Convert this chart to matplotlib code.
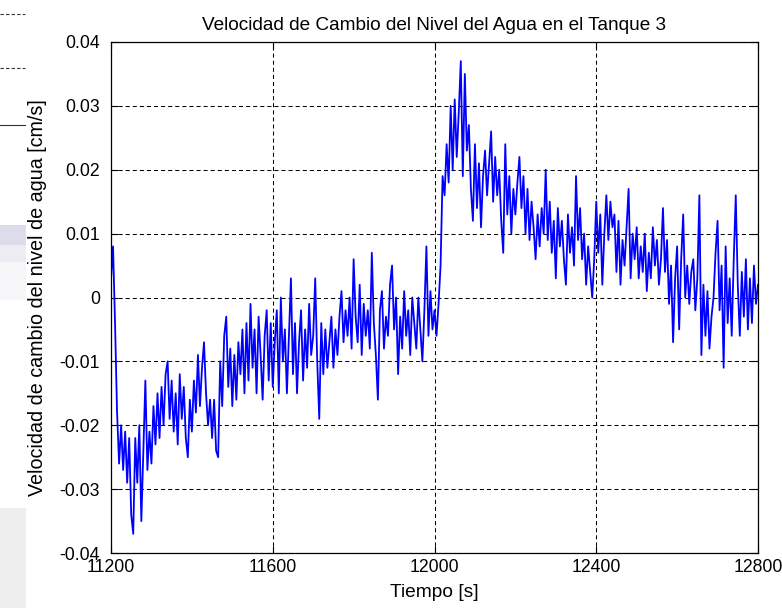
import numpy as np
import matplotlib.pyplot as plt
from matplotlib.patches import Rectangle
from matplotlib.lines import Line2D

tiempo = np.arange(11200, 12801, 5)
vel_milli = [
    3, 8, -4, -18, -26, -20, -27, -21, -29, -22,
    -34, -37, -22, -29, -20, -35, -24, -13, -27, -21,
    -26, -17, -23, -15, -22, -14, -20, -12, -10, -19,
    -13, -21, -15, -23, -12, -19, -14, -22, -25, -16,
    -21, -13, -18, -9, -17, -11, -7, -15, -20, -16,
    -22, -16, -24, -25, -10, -17, -6, -3, -14, -8,
    -17, -9, -16, -7, -12, -5, -15, -4, -13, -1,
    -11, -5, -15, -3, -9, -16, -6, -2, -13, -4,
    -14, -7, -2, -15, 0, -10, -5, -15, -6, 3,
    -12, -4, -15, -7, -2, -13, -5, -11, -1, -9,
    -6, 3, -10, -19, -4, -12, -5, -11, -7, -3,
    -11, -5, -9, -3, 1, -7, -2, -6, 0, -8,
    6, -3, -7, 2, -9, -1, -6, -2, -8, 7,
    -4, -9, -16, -2, 1, -8, -3, -6, 2, 5,
    -5, 0, -12, -3, -8, 1, -6, -2, -9, 0,
    -4, -8, 0, -5, -10, -2, 8, -6, 1, -5,
    -2, -6, -1, 5, 19, 16, 24, 18, 30, 20,
    31, 22, 29, 37, 19, 35, 23, 27, 17, 12,
    24, 14, 21, 11, 19, 23, 16, 21, 26, 15,
    22, 16, 20, 12, 7, 24, 13, 19, 10, 17,
    13, 18, 22, 14, 19, 10, 17, 9, 15, 11,
    6, 13, 8, 14, 10, 20, 9, 15, 7, 12,
    3, 14, 8, 12, 6, 2, 13, 7, 11, 5,
    19, 9, 14, 6, 10, 2, 8, 4, 0, 6,
    15, 7, 13, 2, 10, 16, 9, 15, 11, 13,
    4, 12, 2, 9, 5, 11, 17, 3, 10, 6,
    11, 3, 8, 4, 10, 1, 7, 3, 11, 5,
    9, 2, 6, 14, 4, 9, -1, 5, -7, 3,
    8, -5, 6, 13, 0, 5, -1, 4, 6, -2,
    3, 16, -9, 2, -6, 1, -8, -3, 0, 7,
    12, -2, 5, -11, 8, -4, 3, -6, 6, 16,
    2, -6, 4, -3, 6, -5, 3, -4, 5, -1,
    2,
]
velocidad = np.array(vel_milli) / 1000.0

xticks = [11200, 11600, 12000, 12400, 12800]
yticks = [-0.04, -0.03, -0.02, -0.01, 0, 0.01, 0.02, 0.03, 0.04]
ytick_labels = ['-0.04', '-0.03', '-0.02', '-0.01', '0', '0.01', '0.02', '0.03', '0.04']

plt.rcParams['font.family'] = ['Liberation Sans', 'DejaVu Sans']
plt.rcParams['axes.unicode_minus'] = False

W, H = 782, 608
fig = plt.figure(figsize=(W/100, H/100), dpi=100)

# bits of the neighbouring window at the left edge
def px_rect(x0, y0, x1, y1, color):
    fig.add_artist(Rectangle((x0/W, 1-y1/H), (x1-x0)/W, (y1-y0)/H,
                             transform=fig.transFigure, color=color, lw=0, zorder=0))
px_rect(0, 225, 26, 245, '#dcdcea')
px_rect(0, 245, 26, 262, '#ececf2')
px_rect(0, 262, 26, 300, '#f6f6f8')
px_rect(0, 508, 26, 608, '#eeeeee')
for yy, ls in [(14, (0, (3, 2))), (68, (0, (3, 2))), (125, '-')]:
    fig.add_artist(Line2D([0, 25/W], [1-yy/H, 1-yy/H], transform=fig.transFigure,
                          color='#333333', lw=0.8, linestyle=ls))

ax = fig.add_axes([111/W, 1-553/H, 647/W, 511/H])
ax.plot(tiempo, velocidad, color='#0000ff', lw=1.3)

ax.set_xlim(11200, 12800)
ax.set_ylim(-0.04, 0.04)
ax.set_xticks(xticks)
ax.set_xticklabels([str(v) for v in xticks])
ax.set_yticks(yticks)
ax.set_yticklabels(ytick_labels)

ax.grid(True, color='black', lw=0.75, linestyle=(0, (3.9, 2.9)))
ax.tick_params(direction='in', length=5, width=0.8, top=True, right=True,
               labelsize=12.7, colors='black')
ax.tick_params(axis='x', pad=4)
ax.tick_params(axis='y', pad=8)
for s in ax.spines.values():
    s.set_linewidth(0.9)
    s.set_color('black')

ax.set_title('Velocidad de Cambio del Nivel del Agua en el Tanque 3', fontsize=13.7, pad=9)
ax.set_xlabel('Tiempo [s]', fontsize=13.8)
ax.set_ylabel('Velocidad de cambio del nivel de agua [cm/s]', fontsize=14.2)
ax.xaxis.set_label_coords(0.5, -0.06)
ax.yaxis.set_label_coords(-0.099, 0.5)

fig.savefig('out.png', dpi=100)
